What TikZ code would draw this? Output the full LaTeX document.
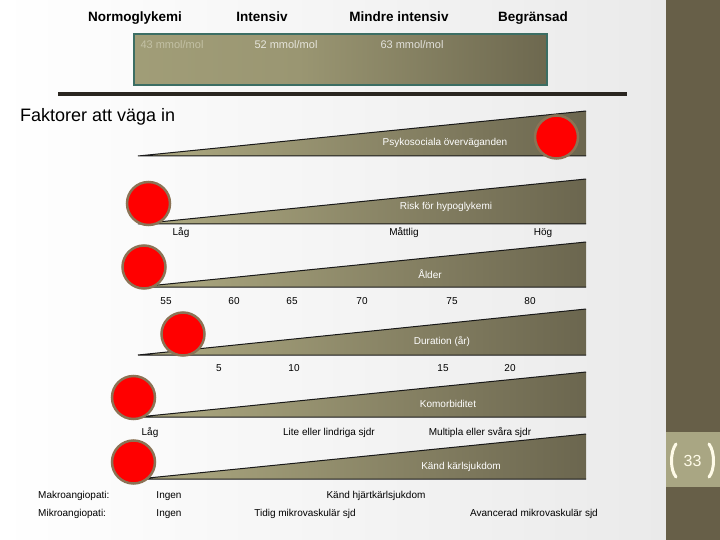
\documentclass[tikz,border=0pt]{standalone}
\usepackage{fontspec}
\setmainfont{Liberation Sans}
\definecolor{wl}{HTML}{8E8A6C}
\definecolor{wm}{HTML}{A8A47D}
\definecolor{wn}{HTML}{7F7A5E}
\definecolor{wd}{HTML}{4A4535}
\definecolor{bl}{HTML}{A9A67E}
\definecolor{bm}{HTML}{9A9672}
\definecolor{bn}{HTML}{6D684F}
\definecolor{bd}{HTML}{514C3B}
\definecolor{bgR}{HTML}{EAEAEA}
\definecolor{barcol}{HTML}{675F48}
\definecolor{pagecol}{HTML}{A9A683}
\definecolor{brownc}{HTML}{8B7355}
\definecolor{tealc}{HTML}{3C6E64}
\definecolor{creamc}{HTML}{FFFBE8}
\definecolor{linec}{HTML}{2A2620}
\pgfdeclarehorizontalshading{wedgeshade}{100bp}{color(0bp)=(wl); color(30bp)=(wm); color(60bp)=(wn); color(100bp)=(wd)}
\pgfdeclarehorizontalshading{boxshade}{100bp}{color(0bp)=(bl); color(45bp)=(bm); color(75bp)=(bn); color(100bp)=(bd)}
\tikzset{
  head/.style={font=\fontsize{13.5}{15}\selectfont\bfseries, inner sep=0pt, anchor=base},
  small/.style={font=\fontsize{10}{12}\selectfont, inner sep=0pt},
  intext/.style={small, text=white},
  boxtext/.style={font=\fontsize{11}{13}\selectfont, inner sep=0pt},
  redc/.style={circle, minimum size=43pt, inner sep=0pt, fill=red, draw=brownc, line width=2.5pt},
  wedgeline/.style={draw=black!90, line width=1pt},
  brack/.style={draw=creamc, line width=3pt, line cap=round}
}
\begin{document}
\begin{tikzpicture}[x=1pt,y=-1pt]
\useasboundingbox (0,0) rectangle (720,540);
% background
\shade[left color=white, right color=bgR] (0,0) rectangle (666,540);
\fill[barcol] (666,0) rectangle (720,540);
\fill[pagecol] (666,432) rectangle (720,487);
\draw[brack] (676,444) .. controls (670,452) and (670,470) .. (676,477);
\draw[brack] (709,444) .. controls (715,452) and (715,470) .. (709,477);
\node[font=\fontsize{16}{18}\selectfont, text=creamc, inner sep=0pt] (pg) at (692.5,460.5) {33};

% headings
\node[head] (h1) at (135,22) {Normoglykemi};
\node[head] (h2) at (262,22) {Intensiv};
\node[head] (h3) at (399,22) {Mindre intensiv};
\node[head] (h4) at (533,22) {Begränsad};

% top box
\shade[shading=boxshade] (134,34) rectangle (547,85);
\draw[tealc, line width=1.3pt] (134,34) rectangle (547,85);
\node[boxtext, text=bl!70!white] (m1) at (172,45) {43 mmol/mol};
\node[boxtext, text=white!75!bm] (m2) at (286,45) {52 mmol/mol};
\node[boxtext, text=white!80!bn] (m3) at (412,45) {63 mmol/mol};

% thick rule
\coordinate (rl) at (58,94);
\coordinate (rr) at (627,94);
\draw[linec, line width=4pt] (rl) -- (rr);

\node[font=\fontsize{18}{21}\selectfont, anchor=west, inner sep=0pt] (fak) at (20,117) {Faktorer att väga in};

% wedges
\foreach \t/\b in {111/156,179/224,242/287,309/355,372/417,434/479}{
  \shade[shading=wedgeshade] (138,\b) -- (586,\t) -- (586,\b) -- cycle;
  \draw[wedgeline] (586,\t) -- (138,\b) -- (586,\b);
}

% circles
\node[redc] (c1) at (556.5,137) {};
\node[redc] (c2) at (148.5,203.5) {};
\node[redc] (c3) at (144,267) {};
\node[redc] (c4) at (183,334) {};
\node[redc] (c5) at (133.5,397.5) {};
\node[redc] (c6) at (133.5,462) {};

% texts in wedges
\node[intext] (t1) at (445,143) {Psykosociala överväganden};
\node[intext] (t2) at (446,207) {Risk för hypoglykemi};
\node[intext] (t3) at (430,274) {Ålder};
\node[intext] (t4) at (442,342) {Duration (år)};
\node[intext] (t5) at (448,404) {Komorbiditet};
\node[intext] (t6) at (461,467) {Känd kärlsjukdom};

% labels
\node[small] (l21) at (181,233) {Låg};
\node[small] (l22) at (404,233) {Måttlig};
\node[small] (l23) at (543,233) {Hög};

\node[small] (a55) at (166,301) {55};
\node[small] (a60) at (234,301) {60};
\node[small] (a65) at (292,301) {65};
\node[small] (a70) at (362,301) {70};
\node[small] (a75) at (452,301) {75};
\node[small] (a80) at (530,301) {80};

\node[small] (d5) at (219,368) {5};
\node[small] (d10) at (294,368) {10};
\node[small] (d15) at (443,368) {15};
\node[small] (d20) at (510,368) {20};

\node[small] (k1) at (150,433) {Låg};
\node[small] (k2) at (329,433) {Lite eller lindriga sjdr};
\node[small] (k3) at (480,433) {Multipla eller svåra sjdr};

\node[small, anchor=west] (ma) at (38,496) {Makroangiopati:};
\node[small] (ma1) at (169,496) {Ingen};
\node[small] (ma2) at (376,496) {Känd hjärtkärlsjukdom};
\node[small, anchor=west] (mi) at (38,514) {Mikroangiopati:};
\node[small] (mi1) at (169,514) {Ingen};
\node[small] (mi2) at (305,514) {Tidig mikrovaskulär sjd};
\node[small] (mi3) at (534,514) {Avancerad mikrovaskulär sjd};
\end{tikzpicture}
\end{document}
